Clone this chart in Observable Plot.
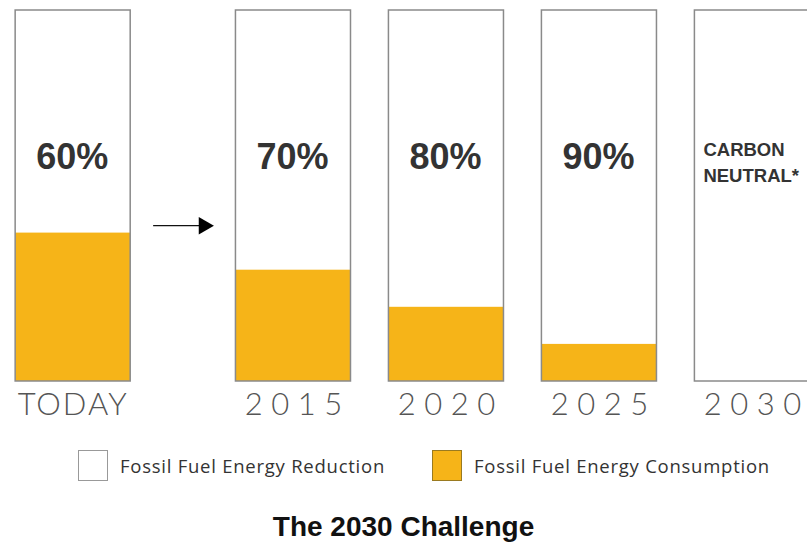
<!DOCTYPE html>
<html>
<head>
<meta charset="utf-8">
<script src="https://cdn.jsdelivr.net/npm/d3@7"></script>
<script src="https://cdn.jsdelivr.net/npm/@observablehq/plot@0.6"></script>
<style>
  html, body { margin: 0; padding: 0; background: #fff; width: 807px; height: 543px; overflow: hidden; }
  #chart svg { display: block; }
  .legend { position: relative; height: 60px; font-family: "Open Sans", "Liberation Sans", sans-serif; font-size: 18.5px; letter-spacing: 0.75px; color: #333; }
  .legend .item { position: absolute; top: 20px; display: flex; align-items: center; }
  .legend .sw { width: 30px; height: 31px; box-sizing: border-box; border: 1.5px solid #999; margin-right: 12px; }
  .title { text-align: center; font-family: "Liberation Sans", Arial, sans-serif; font-weight: bold; font-size: 28px; line-height: 32px; color: #111; margin-top: 21px; }
</style>
</head>
<body>
<div id="chart"></div>
<div class="legend">
  <div class="item" style="left:78px"><div class="sw" style="background:#fff"></div><span id="lg0"></span></div>
  <div class="item" style="left:432px"><div class="sw" style="background:#F6B418;border-color:#9a7a20"></div><span id="lg1"></span></div>
</div>
<div class="title" id="title"></div>
<script>
const periods = ["TODAY", "2015", "2020", "2025", "2030"];
const positions = [2007.8, 2015, 2020, 2025, 2030];
const reduction = [60, 70, 80, 90, 100];
const consumption = [40, 30, 20, 10, 0];
const reductionLabels = ["60%", "70%", "80%", "90%"];
const neutralLabel = "CARBON\nNEUTRAL*";
const legendLabels = ["Fossil Fuel Energy Reduction", "Fossil Fuel Energy Consumption"];
const titleText = "The 2030 Challenge";

const half = 1.88;
const orange = "#F6B418";
const data = periods.map((p, i) => ({
  period: p, pos: positions[i], reduction: reduction[i], consumption: consumption[i]
}));
const arrowX1 = positions[0] + half + 0.75;
const arrowX2 = positions[1] - half - 0.85;
const arrowY = 42;

const chart = Plot.plot({
  width: 807,
  height: 430,
  marginLeft: 0,
  marginRight: 0,
  marginTop: 10,
  marginBottom: 49,
  x: { domain: [2005.425, 2031.8], axis: null },
  y: { domain: [0, 100], axis: null },
  marks: [
    Plot.rect(data, { x1: d => d.pos - half, x2: d => d.pos + half, y1: 0, y2: 100, fill: "#fff" }),
    Plot.rect(data, { x1: d => d.pos - half, x2: d => d.pos + half, y1: 0, y2: "consumption", fill: orange }),
    Plot.rect(data, { x1: d => d.pos - half, x2: d => d.pos + half, y1: 0, y2: 100, fill: "none", stroke: "#8a8a8a", strokeWidth: 1.5 }),
    Plot.text(data.slice(0, 4), {
      x: "pos", frameAnchor: "top", lineAnchor: "middle", dy: 147, dx: -1, text: (d, i) => reductionLabels[i],
      fontSize: 36, fontWeight: "bold", fill: "#333", fontFamily: "Liberation Sans, Arial, sans-serif"
    }),
    Plot.text([data[4]], {
      x: "pos", frameAnchor: "top", lineAnchor: "middle", dy: 150, dx: -49, text: () => neutralLabel, textAnchor: "start",
      lineHeight: 1.4, fontSize: 18.5, fontWeight: "bold", fill: "#333", fontFamily: "Liberation Sans, Arial, sans-serif"
    }),
    Plot.text(data, {
      x: "pos", y: 0, dy: 24, text: "period", fontSize: 31, fill: "#555",
      fontFamily: "Lato, DejaVu Sans, sans-serif", fontWeight: 300,
      className: "period-label"
    }),
    Plot.ruleY([arrowY], { x1: arrowX1, x2: arrowX2 - 0.3, stroke: "#111", strokeWidth: 1.3 }),
    Plot.dot([arrowY], { x: arrowX2 - 0.2, y: d => d, symbol: "triangle", rotate: 90, r: 6.5, fill: "#000", stroke: null })
  ]
});
document.getElementById("chart").appendChild(chart);

d3.select(chart).selectAll(".period-label text").each(function () {
  const t = d3.select(this);
  if (t.text() !== "TODAY") t.style("letter-spacing", "8.5px").attr("dx", 4.25);
  else t.style("letter-spacing", "2px").attr("dx", 0);
});

document.getElementById("lg0").textContent = legendLabels[0];
document.getElementById("lg1").textContent = legendLabels[1];
document.getElementById("title").textContent = titleText;
</script>
</body>
</html>
